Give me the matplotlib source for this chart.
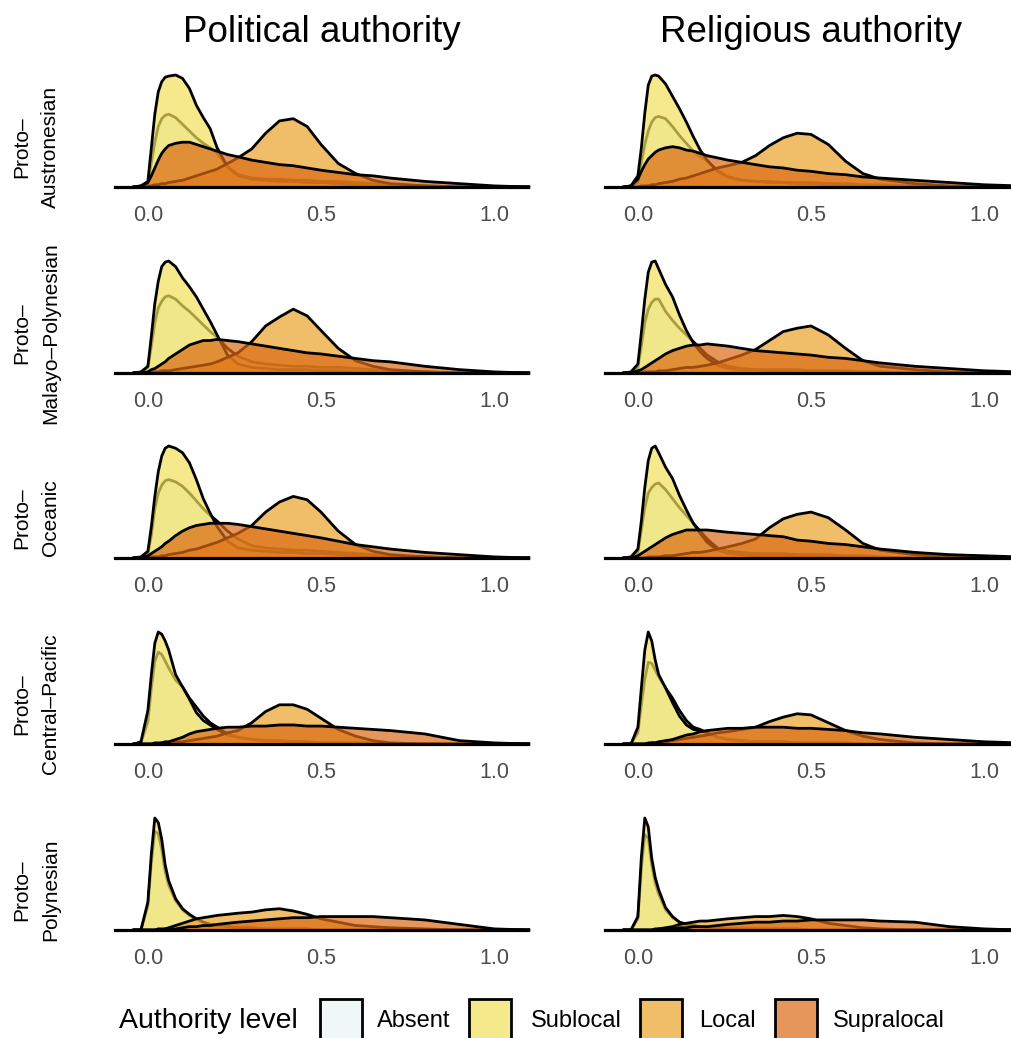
import matplotlib
matplotlib.use("Agg")
import matplotlib.pyplot as plt
from matplotlib.patches import Rectangle

plt.rcParams["font.family"] = ["Liberation Sans", "DejaVu Sans"]

# posterior density curves; height in % of each panel's peak
X = [-0.04, -0.02, 0.0, 0.01, 0.02, 0.03, 0.04, 0.05, 0.06, 0.08, 0.10, 0.12, 0.14, 0.16,
     0.18, 0.20, 0.23, 0.26, 0.30, 0.34, 0.38, 0.42, 0.46, 0.50, 0.55, 0.60, 0.65, 0.70,
     0.80, 0.90, 1.00, 1.10]

levels = ["Absent", "Sublocal", "Local", "Supralocal"]
colors = ["#eaf5f5", "#f1e15c", "#eaa22a", "#dc6a14"]
fill_alpha = 0.7
columns = ["Political authority", "Religious authority"]
rows = ["Proto\u2013\nAustronesian", "Proto\u2013\nMalayo\u2013Polynesian", "Proto\u2013\nOceanic",
        "Proto\u2013\nCentral\u2013Pacific", "Proto\u2013\nPolynesian"]
xticks = [0.0, 0.5, 1.0]
xtick_labels = ["0.0", "0.5", "1.0"]

pol_austronesian = [
    [0, 0, 3, 22, 40, 54, 61, 64, 65, 62, 56, 50, 44, 39, 35, 30, 18, 11, 8, 7, 7, 6, 6, 5, 5, 4, 3, 2, 1, 0, 0, 0],
    [0, 1, 5, 35, 65, 85, 94, 98, 99, 100, 97, 88, 73, 62, 52, 35, 18, 10, 7, 6, 5, 5, 4, 4, 3, 2, 1, 1, 0, 0, 0, 0],
    [0, 0, 1, 1, 2, 2, 3, 3, 4, 5, 6, 8, 10, 12, 14, 16, 21, 26, 34, 48, 59, 61, 54, 38, 21, 12, 6, 3, 1, 0, 0, 0],
    [0, 1, 4, 10, 17, 24, 30, 34, 37, 39, 40, 40, 38, 36, 34, 32, 29, 27, 24, 22, 20, 19, 17, 15, 13, 11, 10, 8, 5, 3, 1, 0],
]
rel_austronesian = [
    [0, 0, 4, 22, 38, 50, 58, 62, 63, 61, 54, 46, 39, 32, 27, 23, 15, 9, 6, 5, 5, 4, 4, 4, 3, 3, 2, 2, 1, 0, 0, 0],
    [0, 1, 10, 35, 66, 91, 99, 100, 99, 92, 81, 70, 58, 45, 33, 24, 14, 9, 6, 5, 4, 4, 3, 3, 2, 2, 1, 1, 0, 0, 0, 0],
    [0, 0, 0, 1, 1, 1, 2, 2, 3, 4, 5, 7, 8, 10, 12, 14, 17, 19, 22, 28, 37, 44, 48, 47, 38, 23, 12, 7, 3, 1, 0, 0],
    [0, 1, 7, 14, 20, 25, 28, 31, 33, 35, 36, 35, 33, 32, 30, 28, 26, 24, 22, 20, 18, 17, 15, 14, 12, 11, 9, 8, 6, 4, 2, 1],
]
pol_malayo = [
    [0, 0, 5, 24, 45, 58, 64, 68, 69, 66, 60, 55, 49, 43, 37, 32, 22, 15, 10, 8, 7, 6, 6, 5, 5, 4, 3, 2, 1, 0, 0, 0],
    [0, 1, 6, 33, 62, 82, 95, 99, 100, 95, 85, 77, 68, 57, 46, 34, 16, 8, 5, 4, 3, 3, 3, 2, 2, 1, 1, 1, 0, 0, 0, 0],
    [0, 0, 0, 1, 1, 1, 2, 2, 2, 3, 4, 5, 6, 7, 8, 10, 14, 18, 28, 42, 50, 57, 51, 38, 22, 11, 6, 3, 1, 0, 0, 0],
    [0, 0, 1, 3, 4, 6, 8, 10, 13, 17, 21, 25, 27, 29, 29, 30, 29, 28, 26, 24, 22, 20, 18, 17, 15, 13, 11, 10, 6, 3, 1, 0],
]
rel_malayo = [
    [0, 0, 5, 24, 45, 57, 63, 66, 66, 55, 47, 40, 34, 28, 22, 16, 10, 6, 4, 3, 3, 3, 3, 2, 2, 2, 1, 1, 0, 0, 0, 0],
    [0, 1, 8, 36, 66, 90, 99, 100, 93, 79, 68, 52, 38, 27, 19, 13, 7, 4, 3, 3, 2, 2, 2, 2, 1, 1, 1, 1, 0, 0, 0, 0],
    [0, 0, 0, 0, 1, 1, 1, 1, 2, 2, 3, 4, 5, 5, 6, 7, 9, 12, 16, 21, 29, 37, 40, 42, 34, 22, 11, 6, 3, 1, 0, 0],
    [0, 0, 2, 3, 5, 7, 9, 11, 13, 17, 20, 22, 24, 25, 25, 26, 25, 24, 22, 20, 19, 18, 17, 16, 14, 13, 11, 9, 6, 4, 2, 1],
]
pol_oceanic = [
    [0, 0, 4, 20, 44, 58, 65, 69, 70, 68, 64, 58, 51, 44, 38, 33, 24, 17, 11, 9, 8, 7, 7, 6, 5, 4, 3, 2, 1, 0, 0, 0],
    [0, 1, 6, 28, 55, 77, 91, 98, 100, 98, 94, 85, 70, 53, 40, 28, 15, 9, 7, 6, 5, 5, 4, 4, 3, 2, 1, 1, 0, 0, 0, 0],
    [0, 0, 0, 1, 1, 1, 2, 2, 3, 4, 5, 7, 8, 10, 12, 14, 18, 22, 29, 41, 50, 55, 52, 41, 24, 12, 6, 3, 1, 0, 0, 0],
    [0, 0, 2, 4, 6, 8, 10, 13, 15, 20, 24, 27, 29, 30, 31, 31, 31, 30, 28, 26, 24, 22, 20, 18, 15, 12, 10, 8, 5, 3, 1, 0],
]
rel_oceanic = [
    [0, 0, 5, 25, 45, 58, 63, 66, 67, 61, 53, 45, 38, 31, 24, 17, 9, 6, 5, 4, 4, 4, 3, 3, 3, 2, 2, 1, 0, 0, 0, 0],
    [0, 1, 8, 33, 63, 87, 98, 100, 94, 81, 71, 56, 43, 31, 22, 14, 7, 4, 3, 2, 2, 2, 2, 1, 1, 1, 1, 0, 0, 0, 0, 0],
    [0, 0, 0, 0, 0, 1, 1, 1, 1, 2, 2, 3, 4, 5, 5, 6, 8, 10, 13, 17, 27, 35, 39, 41, 36, 25, 13, 7, 3, 1, 0, 0],
    [0, 0, 2, 4, 6, 8, 10, 12, 14, 18, 21, 23, 25, 25, 25, 25, 24, 23, 22, 21, 20, 19, 16, 15, 13, 12, 10, 8, 5, 3, 2, 1],
]
pol_central = [
    [0, 1, 20, 50, 74, 82, 80, 74, 68, 57, 51, 41, 33, 25, 19, 15, 9, 6, 4, 3, 2, 2, 2, 1, 1, 1, 1, 0, 0, 0, 0, 0],
    [0, 2, 30, 62, 90, 100, 98, 92, 84, 62, 51, 40, 28, 21, 17, 13, 8, 6, 4, 3, 3, 2, 2, 1, 1, 1, 1, 0, 0, 0, 0, 0],
    [0, 0, 0, 0, 0, 0, 1, 1, 1, 2, 2, 3, 4, 5, 6, 7, 10, 12, 19, 29, 35, 35, 31, 23, 13, 7, 3, 1, 0, 0, 0, 0],
    [0, 0, 0, 0, 1, 1, 1, 2, 2, 4, 6, 9, 11, 12, 13, 14, 15, 15, 16, 16, 17, 17, 16, 16, 15, 14, 13, 12, 9, 3, 1, 0],
]
rel_central = [
    [0, 0, 10, 35, 58, 73, 72, 66, 60, 50, 41, 30, 21, 15, 13, 10, 6, 4, 3, 2, 2, 2, 1, 1, 1, 1, 0, 0, 0, 0, 0, 0],
    [0, 0, 15, 50, 84, 100, 92, 75, 62, 50, 37, 25, 17, 13, 12, 10, 6, 4, 3, 2, 2, 2, 1, 1, 1, 1, 0, 0, 0, 0, 0, 0],
    [0, 0, 0, 0, 0, 0, 1, 1, 1, 2, 3, 4, 5, 6, 7, 8, 10, 11, 13, 15, 20, 24, 27, 26, 19, 12, 7, 4, 1, 0, 0, 0],
    [0, 0, 0, 0, 0, 1, 1, 1, 2, 3, 4, 6, 8, 9, 11, 12, 13, 14, 14, 15, 15, 15, 14, 14, 13, 12, 10, 9, 6, 4, 2, 1],
]
pol_polynesian = [
    [0, 0, 22, 60, 88, 86, 72, 52, 40, 26, 18, 13, 9, 7, 5, 4, 3, 2, 2, 1, 1, 1, 1, 0, 0, 0, 0, 0, 0, 0, 0, 0],
    [0, 0, 25, 68, 100, 96, 81, 58, 44, 28, 19, 14, 10, 7, 5, 4, 3, 2, 2, 1, 1, 1, 1, 0, 0, 0, 0, 0, 0, 0, 0, 0],
    [0, 0, 0, 0, 0, 1, 1, 1, 2, 4, 6, 8, 10, 11, 12, 13, 14, 15, 16, 18, 19, 17, 14, 10, 7, 4, 3, 2, 1, 0, 0, 0],
    [0, 0, 0, 0, 0, 0, 0, 1, 1, 1, 2, 3, 3, 4, 4, 5, 6, 7, 8, 9, 10, 11, 11, 12, 12, 12, 12, 11, 9, 5, 1, 0],
]
rel_polynesian = [
    [0, 0, 10, 55, 85, 82, 58, 42, 32, 18, 11, 7, 5, 4, 3, 2, 2, 1, 1, 1, 1, 1, 1, 0, 0, 0, 0, 0, 0, 0, 0, 0],
    [0, 0, 12, 65, 100, 92, 64, 47, 36, 20, 12, 7, 5, 4, 3, 2, 2, 1, 1, 1, 1, 1, 1, 0, 0, 0, 0, 0, 0, 0, 0, 0],
    [0, 0, 0, 0, 0, 0, 0, 1, 1, 2, 3, 5, 6, 7, 8, 8, 9, 10, 11, 12, 12, 13, 12, 10, 6, 4, 2, 1, 0, 0, 0, 0],
    [0, 0, 0, 0, 0, 0, 0, 0, 1, 1, 1, 2, 2, 3, 3, 3, 4, 5, 6, 7, 7, 8, 8, 9, 9, 9, 9, 8, 7, 3, 1, 0],
]

panels = [
    (pol_austronesian, rel_austronesian),
    (pol_malayo, rel_malayo),
    (pol_oceanic, rel_oceanic),
    (pol_central, rel_central),
    (pol_polynesian, rel_polynesian),
]

W, H = 1011, 1038
fig = plt.figure(figsize=(W / 100, H / 100), dpi=100)

baselines = [187, 373, 558, 744, 930]
col_left = [115, 605]
panel_w, panel_h = 413, 112

for r, pair in enumerate(panels):
    for c, curves in enumerate(pair):
        b = baselines[r]
        ax = fig.add_axes([col_left[c] / W, (H - b) / H, panel_w / W, panel_h / H])
        for i, ys in enumerate(curves):
            ax.fill_between(X, 0, ys, facecolor=colors[i], alpha=fill_alpha, lw=0,
                            zorder=2 * i + 1, clip_on=False)
            ax.plot(X, ys, color="black", lw=2.0, zorder=2 * i + 2, clip_on=False,
                    solid_joinstyle="round")
        ax.axhline(0, color="black", lw=2.3, zorder=20, clip_on=False)
        ax.set_xlim(-0.095, 1.098)
        ax.set_ylim(0, 100)
        ax.set_yticks([])
        ax.set_xticks(xticks)
        ax.set_xticklabels(xtick_labels)
        ax.tick_params(axis="x", length=0, pad=13, labelsize=15.5, labelcolor="#4d4d4d")
        for s in ax.spines.values():
            s.set_visible(False)
        ax.patch.set_alpha(0)
        if r == 0:
            fig.text((col_left[c] + panel_w / 2) / W, 1 - 33 / H, columns[c],
                     ha="center", va="center", fontsize=26.5)
    fig.text(36 / W, 1 - (baselines[r] - 40) / H, rows[r], rotation=90,
             ha="center", va="center", fontsize=15, linespacing=1.65,
             multialignment="center")

# legend along the bottom edge
fig.text(119 / W, 1 - 1021 / H, "Authority level", ha="left", va="center", fontsize=20.5)
box_x = [320, 469, 640, 775]
label_x = [377, 531, 699, 833]
for i, lev in enumerate(levels):
    fig.patches.append(Rectangle((box_x[i] / W, -10 / H), 42 / W, (H - 999 + 10) / H,
                                 transform=fig.transFigure, facecolor=colors[i],
                                 alpha=fill_alpha, edgecolor="none", zorder=1))
    fig.patches.append(Rectangle((box_x[i] / W, -10 / H), 42 / W, (H - 999 + 10) / H,
                                 transform=fig.transFigure, facecolor="none",
                                 edgecolor="black", lw=2.0, zorder=2))
    fig.text(label_x[i] / W, 1 - 1021 / H, lev, ha="left", va="center", fontsize=17)

fig.savefig("out.png", dpi=100)
